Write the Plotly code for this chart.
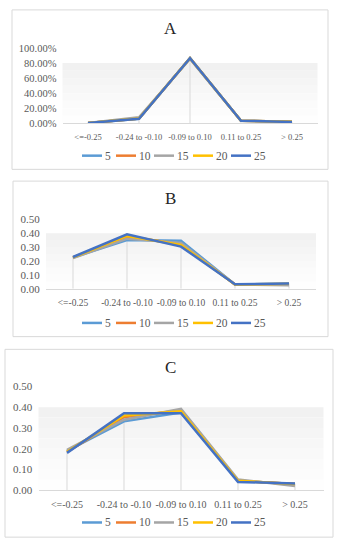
import plotly.graph_objects as go

categories = ["<=-0.25", "-0.24 to -0.10", "-0.09 to 0.10", "0.11 to 0.25", "> 0.25"]
series_names = ["5", "10", "15", "20", "25"]
colors = ["#5B9BD5", "#ED7D31", "#A5A5A5", "#FFC000", "#4472C4"]

# Panel A (fractions, shown as percentages)
a_5 = [0.005, 0.060, 0.868, 0.035, 0.020]
a_10 = [0.005, 0.065, 0.865, 0.035, 0.020]
a_15 = [0.005, 0.080, 0.855, 0.035, 0.020]
a_20 = [0.005, 0.065, 0.865, 0.035, 0.020]
a_25 = [0.005, 0.062, 0.866, 0.035, 0.018]

# Panel B
b_5 = [0.225, 0.350, 0.345, 0.030, 0.035]
b_10 = [0.225, 0.375, 0.320, 0.030, 0.030]
b_15 = [0.220, 0.360, 0.330, 0.030, 0.025]
b_20 = [0.225, 0.380, 0.315, 0.030, 0.035]
b_25 = [0.228, 0.392, 0.303, 0.032, 0.038]

# Panel C
c_5 = [0.190, 0.332, 0.375, 0.045, 0.030]
c_10 = [0.185, 0.352, 0.385, 0.045, 0.030]
c_15 = [0.195, 0.340, 0.392, 0.052, 0.020]
c_20 = [0.185, 0.360, 0.380, 0.045, 0.030]
c_25 = [0.180, 0.371, 0.371, 0.040, 0.032]

W, H = 341, 550

panels = [
    dict(key="", title="A", data=[a_5, a_10, a_15, a_20, a_25], yrange=[0, 1.0], dtick=0.2,
         fmt=".2%", xpx=[62.5, 317.5], ypx=[43, 120], ty=23, ly=153,
         box=[12, 4, 328, 167], xfs=8.5, yfs=10.5),
    dict(key="2", title="B", data=[b_5, b_10, b_15, b_20, b_25], yrange=[0, 0.5], dtick=0.1,
         fmt=".2f", xpx=[46, 316], ypx=[218, 289], ty=197, ly=324,
         box=[13, 179, 328, 338], xfs=9.5, yfs=11),
    dict(key="3", title="C", data=[c_5, c_10, c_15, c_20, c_25], yrange=[0, 0.5], dtick=0.1,
         fmt=".2f", xpx=[38.5, 323.5], ypx=[389, 495], ty=370, ly=528,
         box=[5, 351, 333, 543], xfs=10, yfs=11),
]

legend_x = [82, 116, 154, 193, 231]
LEG_LINE = 20

FONT = "Liberation Serif, Times New Roman, serif"
TXT = "#595959"


def px(x):
    return x / W


def py(y):
    return 1 - y / H


fig = go.Figure()
layout = dict(
    width=W, height=H, margin=dict(l=0, r=0, t=0, b=0),
    paper_bgcolor="white", plot_bgcolor="rgba(0,0,0,0)",
    font=dict(family=FONT, size=10, color=TXT),
    shapes=[], annotations=[], showlegend=False,
)

grad = ["#f1f1f1", "#f3f3f3", "#f5f5f5", "#f7f7f7", "#f9f9f9", "#fbfbfb", "#fcfcfc", "#fefefe"]

for p in panels:
    k = p["key"]
    xa = "x" + k
    ya = "y" + k
    # drop lines
    dx, dy = [], []
    for i, c in enumerate(categories):
        top = max(s[i] for s in p["data"])
        dx += [c, c, None]
        dy += [0, top, None]
    fig.add_trace(go.Scatter(x=dx, y=dy, mode="lines", line=dict(color="#d9d9d9", width=1),
                             showlegend=False, hoverinfo="skip", xaxis=xa, yaxis=ya))
    for name, col, vals in zip(series_names, colors, p["data"]):
        fig.add_trace(go.Scatter(x=categories, y=vals, mode="lines", name=name,
                                 line=dict(color=col, width=2.5),
                                 xaxis=xa, yaxis=ya))
    layout["xaxis" + k] = dict(
        domain=[px(p["xpx"][0]), px(p["xpx"][1])], anchor=ya, type="category", range=[-0.5, 4.5],
        showgrid=False, zeroline=False, showline=True, linecolor="#d9d9d9", linewidth=1,
        ticks="outside", ticklen=5, tickcolor="rgba(0,0,0,0)", tickangle=0,
        tickfont=dict(family=FONT, size=p["xfs"], color=TXT), fixedrange=True,
    )
    layout["yaxis" + k] = dict(
        domain=[py(p["ypx"][1]), py(p["ypx"][0])], anchor=xa, range=p["yrange"],
        dtick=p["dtick"], tickformat=p["fmt"],
        showgrid=False, zeroline=False, showline=False,
        ticks="outside", ticklen=3, tickcolor="rgba(0,0,0,0)",
        tickfont=dict(family=FONT, size=p["yfs"], color=TXT), fixedrange=True,
    )
    # gradient background bands
    y0, y1 = p["yrange"]
    top = y0 + (y1 - y0) * 0.8
    n = len(grad)
    for j, gc in enumerate(grad):
        layout["shapes"].append(dict(
            type="rect", xref=xa + " domain", yref=ya, x0=0, x1=1,
            y0=top - (top - y0) * (j + 1) / n, y1=top - (top - y0) * j / n,
            fillcolor=gc, line=dict(width=0), layer="below"))
    bx0, by0, bx1, by1 = p["box"]
    layout["shapes"].append(dict(
        type="rect", xref="paper", yref="paper",
        x0=px(bx0), x1=px(bx1), y0=py(by1), y1=py(by0),
        line=dict(color="#d9d9d9", width=1), fillcolor="rgba(0,0,0,0)", layer="below"))
    layout["annotations"].append(dict(
        text=p["title"], xref="paper", yref="paper", x=0.5, y=py(p["ty"]),
        xanchor="center", yanchor="middle", showarrow=False,
        font=dict(family=FONT, size=17, color="#262626")))
    # legend (line sample + label per series)
    for name, col, lx in zip(series_names, colors, legend_x):
        layout["shapes"].append(dict(
            type="line", xref="paper", yref="paper",
            x0=px(lx), x1=px(lx + LEG_LINE), y0=py(p["ly"]), y1=py(p["ly"]),
            line=dict(color=col, width=2.5)))
        layout["annotations"].append(dict(
            text=name, xref="paper", yref="paper", x=px(lx + LEG_LINE + 1), y=py(p["ly"]),
            xanchor="left", yanchor="middle", showarrow=False,
            font=dict(family=FONT, size=11.5, color=TXT)))

fig.update_layout(**layout)
fig.write_html("out.html", config={"displayModeBar": False},
               post_script="document.body.style.margin='0';")
